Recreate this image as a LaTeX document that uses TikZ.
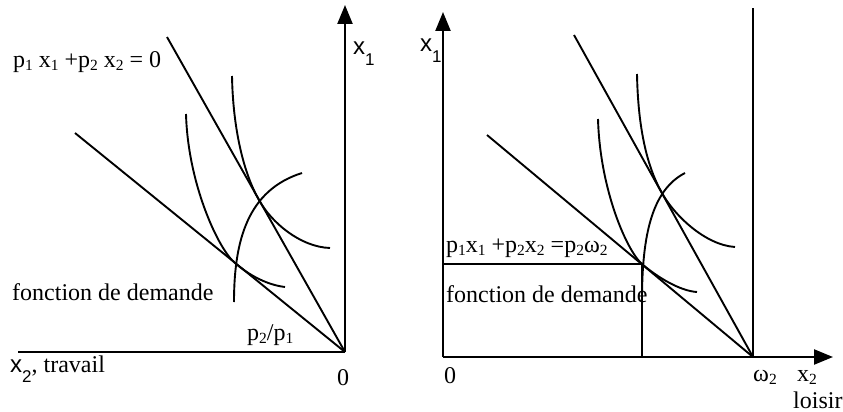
\documentclass[tikz,border=0pt]{standalone}
\usepackage{fontspec}
\setmainfont{Liberation Serif}
\setsansfont{Liberation Sans}
\usetikzlibrary{arrows.meta}
\newcommand{\sub}[1]{\raisebox{-.15em}{\fontsize{15.5}{15.5}\selectfont #1}}
\newcommand{\axlab}[2]{{\sffamily #1}\raisebox{-.45em}{\sffamily\fontsize{17}{17}\selectfont #2}}

\tikzset{
  axe/.style={line width=2.3pt,-{Triangle[length=19pt,width=15pt]}},
  trait/.style={line width=2.3pt},
  courbe/.style={line width=1.9pt},
  lbl/.style={font=\fontsize{24}{26}\selectfont,inner sep=0pt,anchor=base west}
}

\begin{document}
\begin{tikzpicture}[x=1pt,y=-1pt,line join=round]
\useasboundingbox (0,0) rectangle (843,412);
% gauche : travail
\coordinate (O1) at (345,352);
\coordinate (A1) at (259,200);
\coordinate (B1) at (235,263);
\draw[axe] (O1) -- (345,5);
\draw[trait] (18,352) -- (O1);
\draw[courbe] (167,37) -- (O1);
\draw[courbe] (75,133) -- (O1);
\draw[courbe] (232,76) .. controls (233,130) and (244,174) .. (A1) .. controls (271,222) and (300,247) .. (330,248);
\draw[courbe] (186,114) .. controls (188,185) and (219,250) .. (B1) .. controls (250,276) and (268,285) .. (285,287);
\draw[courbe] (234,302) .. controls (234,240) and (248,190) .. (302,173);
\node[lbl] (eq1) at (13,67) {p\sub1 x\sub1 +p\sub2 x\sub2 = 0};
\node[lbl] (dem1) at (12,300) {fonction de demande};
\node[lbl] (pente) at (247,340) {p\sub2/p\sub1};
\node[lbl] (zero1) at (337,385) {0};
\node[lbl] (xun1) at (353,55) {\axlab{x}{1}};
\node[lbl] (xdeux1) at (10,372) {\axlab{x}{2}, travail};

% droite : loisir
\coordinate (O2) at (443,357);
\coordinate (W2) at (753,357);
\coordinate (A2) at (662,193);
\coordinate (B2) at (642,264);
\draw[axe] (O2) -- (443,12);
\draw[axe] (O2) -- (833,357);
\draw[trait] (W2) -- (753,8);
\draw[courbe] (574,35) -- (W2);
\draw[courbe] (487,135) -- (W2);
\draw[courbe] (637,74) .. controls (638,128) and (647,167) .. (A2) .. controls (674,215) and (705,245) .. (735,247);
\draw[courbe] (598,119) .. controls (600,190) and (627,251) .. (B2) .. controls (657,277) and (680,291) .. (697,292);
\draw[courbe] (642,300) .. controls (642,235) and (652,190) .. (685,173);
\draw[trait] (O2 |- B2) -- (B2) -- (B2 |- O2);
\node[lbl] (eq2) at (446,252) {p\sub1x\sub1 +p\sub2x\sub2 =p\sub2ω\sub2};
\node[lbl] (dem2) at (446,302) {fonction de demande};
\node[lbl] (zero2) at (444,383) {0};
\node[lbl] (omega) at (753,381) {ω\sub2};
\node[lbl] (xdeux2) at (797,381) {x\sub2};
\node[lbl] (loisir) at (793,408) {loisir};
\node[lbl] (xun2) at (420,52) {\axlab{x}{1}};
\end{tikzpicture}
\end{document}
